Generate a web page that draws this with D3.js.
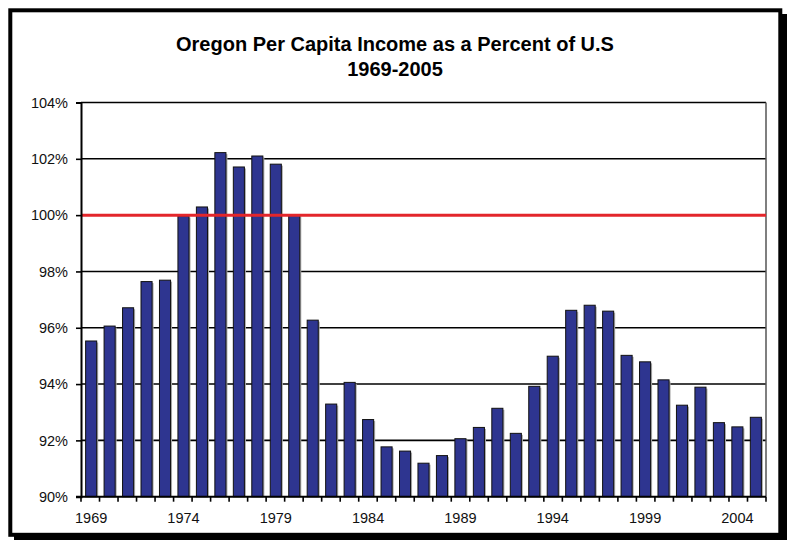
<!DOCTYPE html>
<html>
<head>
	<title>oregon income</title>
	<style>
	body { margin: 0; background: #fff; }
	.title { font-family: Arial, "Liberation Sans", sans-serif; font-weight: bold; font-size: 20px; fill: #000; text-anchor: middle; }
	</style>
	<script src="https://d3js.org/d3.v7.min.js"></script>
</head>
<body>
	<script type="text/javascript">
		// data
		var years = d3.range(1969, 2006);
		var pct = [95.53, 96.06, 96.71, 97.64, 97.69, 99.97, 100.29, 102.22, 101.71, 102.10,
			101.81, 100.01, 96.27, 93.29, 94.06, 92.74, 91.77, 91.62, 91.19, 91.46,
			92.06, 92.46, 93.14, 92.25, 93.92, 94.99, 96.62, 96.80, 96.59, 95.02,
			94.79, 94.15, 93.25, 93.89, 92.63, 92.48, 92.82];
		var yTicks = [90, 92, 94, 96, 98, 100, 102, 104];
		var xLabels = [1969, 1974, 1979, 1984, 1989, 1994, 1999, 2004];
		var titleLines = ['Oregon Per Capita Income as a Percent of U.S', '1969-2005'];

		var width = 787, height = 540;
		var plot = { left: 81, right: 766, top: 102.5, bottom: 496.7 };

		var svg = d3.select('body').append('svg')
			.attr('width', width)
			.attr('height', height);

		// frame with drop shadow
		svg.append('rect')
			.attr('x', 14).attr('y', 14)
			.attr('width', 775).attr('height', 530)
			.attr('fill', '#000');
		svg.append('rect')
			.attr('x', 10.3).attr('y', 10.3)
			.attr('width', 770).attr('height', 524.5)
			.attr('fill', '#fff')
			.attr('stroke', '#000')
			.attr('stroke-width', 4);

		// title
		svg.selectAll('.title')
			.data(titleLines)
			.enter()
			.append('text')
			.attr('class', 'title')
			.attr('x', 395)
			.attr('y', function (d, i) { return 51 + i * 25; })
			.text(function (d) { return d; });

		var x = d3.scaleBand()
			.domain(years)
			.range([plot.left, plot.right])
			.paddingInner(0.4)
			.paddingOuter(0.25);

		var y = d3.scaleLinear()
			.domain([90, 104])
			.range([plot.bottom, plot.top]);

		// gridlines
		svg.append('g')
			.selectAll('line')
			.data(yTicks.filter(function (d) { return d > 90; }))
			.enter()
			.append('line')
			.attr('x1', plot.left).attr('x2', plot.right)
			.attr('y1', function (d) { return y(d); })
			.attr('y2', function (d) { return y(d); })
			.attr('stroke', '#000')
			.attr('stroke-width', 1.6);

		// right border of plot area
		svg.append('line')
			.attr('x1', plot.right).attr('x2', plot.right)
			.attr('y1', plot.top).attr('y2', plot.bottom)
			.attr('stroke', '#555')
			.attr('stroke-width', 1.5);

		// bar shadows
		svg.append('g')
			.selectAll('rect')
			.data(pct)
			.enter()
			.append('rect')
			.attr('x', function (d, i) { return x(years[i]) + 1.5; })
			.attr('y', function (d) { return y(d) + 1.5; })
			.attr('width', x.bandwidth())
			.attr('height', function (d) { return plot.bottom - y(d) - 1.5; })
			.attr('fill', '#aaa');

		// bars
		svg.append('g')
			.selectAll('rect')
			.data(pct)
			.enter()
			.append('rect')
			.attr('x', function (d, i) { return x(years[i]); })
			.attr('y', function (d) { return y(d); })
			.attr('width', x.bandwidth())
			.attr('height', function (d) { return plot.bottom - y(d); })
			.attr('fill', '#2e3590')
			.attr('stroke', '#111')
			.attr('stroke-width', 1);

		// 100% reference line
		svg.append('line')
			.attr('x1', plot.left).attr('x2', plot.right)
			.attr('y1', y(100)).attr('y2', y(100))
			.attr('stroke', '#e3262b')
			.attr('stroke-width', 3);

		// y axis
		var yAxis = svg.append('g')
			.attr('transform', 'translate(' + plot.left + ',0)')
			.call(d3.axisLeft(y).tickValues(yTicks).tickSize(5).tickPadding(8)
				.tickFormat(function (d) { return d + '%'; }));
		yAxis.attr('font-family', 'Arial, "Liberation Sans", sans-serif').attr('font-size', 14.5);
		yAxis.selectAll('text').attr('fill', '#111');
		yAxis.select('.domain').attr('stroke-width', 2);
		yAxis.selectAll('.tick line').attr('stroke-width', 1.6);

		// x axis: labels every 5 years, tick marks between bars
		var xAxis = svg.append('g')
			.attr('transform', 'translate(0,' + plot.bottom + ')')
			.call(d3.axisBottom(x).tickValues(xLabels).tickSize(0).tickPadding(16));
		xAxis.attr('font-family', 'Arial, "Liberation Sans", sans-serif').attr('font-size', 14.5);
		xAxis.selectAll('text').attr('fill', '#111');
		xAxis.select('.domain').remove();

		svg.append('line')
			.attr('x1', plot.left - 5).attr('x2', plot.right)
			.attr('y1', plot.bottom).attr('y2', plot.bottom)
			.attr('stroke', '#000')
			.attr('stroke-width', 2);
		svg.append('g')
			.selectAll('line')
			.data(years.concat([2006]))
			.enter()
			.append('line')
			.attr('x1', function (d, i) { return plot.left + i * (plot.right - plot.left) / years.length; })
			.attr('x2', function (d, i) { return plot.left + i * (plot.right - plot.left) / years.length; })
			.attr('y1', plot.bottom)
			.attr('y2', plot.bottom + 5)
			.attr('stroke', '#000')
			.attr('stroke-width', 1.6);
	</script>
</body>
</html>
